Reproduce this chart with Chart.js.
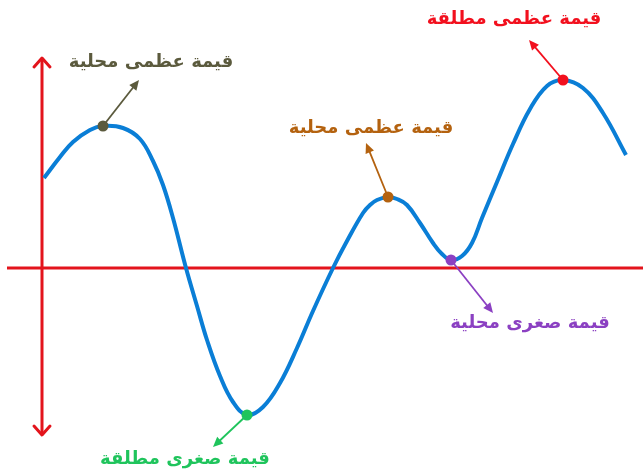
<!DOCTYPE html>
<html>
<head>
<meta charset="utf-8">
<script src="https://cdn.jsdelivr.net/npm/chart.js@4"></script>
<style>
  html, body { margin: 0; padding: 0; background: #fff; }
  #wrap { width: 643px; height: 469px; }
</style>
</head>
<body>
<div id="wrap"><canvas id="curveChart"></canvas></div>
<script>
// curve (y = 0 is the horizontal axis, x = 0 the vertical one)
const curveX = [2, 18, 31, 48, 61, 81, 98, 111, 121, 131, 144, 155, 165, 178, 191, 205, 221, 238, 255, 271, 291,
                305, 321, 328, 335, 346, 355, 365, 378, 391, 400, 409, 420, 430, 440, 455, 471, 488, 505, 521,
                541, 561, 584];
const curveY = [90, 111, 126, 138, 142, 140, 129, 107, 83, 50, 0, -38, -72, -108, -134, -147, -139, -115, -80, -43, 0,
                27, 55, 63, 68, 71, 69, 63, 45, 25, 14, 8, 12, 25, 50, 86, 124, 159, 182, 188,
                180, 155, 113];

// extrema: which curve point, its label and colour
const extremaIndex = [4, 15, 25, 31, 39];
const extremaLabels = ['قيمة عظمى محلية', 'قيمة صغرى مطلقة', 'قيمة عظمى محلية', 'قيمة صغرى محلية', 'قيمة عظمى مطلقة'];
const extremaColors = ['#5b5a3d', '#1fc45c', '#b4620f', '#8b40c2', '#f2101e'];

// axis extents in data units
const xAxisRange = [-35, 601];
const yAxisRange = [-167, 210];

// where each arrow tip and label sit, relative to its point (px)
const arrowTips = [[36, -46], [-34, 32], [-22, -54], [42, 53], [-34, -40]];
const labelOffsets = [[48, -64], [-62, 44], [-17, -69], [79, 63], [-49, -61]];

const axisColor = '#e3141c';

function drawArrow(ctx, x1, y1, x2, y2, color, width, head) {
    const a = Math.atan2(y2 - y1, x2 - x1);
    ctx.save();
    ctx.strokeStyle = color;
    ctx.fillStyle = color;
    ctx.lineWidth = width;
    ctx.beginPath();
    ctx.moveTo(x1, y1);
    ctx.lineTo(x2 - Math.cos(a) * head * 0.8, y2 - Math.sin(a) * head * 0.8);
    ctx.stroke();
    ctx.beginPath();
    ctx.moveTo(x2, y2);
    ctx.lineTo(x2 - head * Math.cos(a) + head * 0.45 * Math.sin(a), y2 - head * Math.sin(a) - head * 0.45 * Math.cos(a));
    ctx.lineTo(x2 - head * Math.cos(a) - head * 0.45 * Math.sin(a), y2 - head * Math.sin(a) + head * 0.45 * Math.cos(a));
    ctx.closePath();
    ctx.fill();
    ctx.restore();
}

function drawOpenHead(ctx, x, y, dir) {
    ctx.save();
    ctx.strokeStyle = axisColor;
    ctx.lineWidth = 3;
    ctx.lineCap = 'round';
    ctx.lineJoin = 'round';
    ctx.beginPath();
    ctx.moveTo(x - 8, y - dir * 9);
    ctx.lineTo(x, y);
    ctx.lineTo(x + 8, y - dir * 9);
    ctx.stroke();
    ctx.restore();
}

const axesPlugin = {
    id: 'axesPlugin',
    beforeDatasetsDraw(chart) {
        const ctx = chart.ctx;
        const xs = chart.scales.x, ys = chart.scales.y;
        const x0 = xs.getPixelForValue(0), y0 = ys.getPixelForValue(0);
        const yTop = ys.getPixelForValue(yAxisRange[1]);
        const yBot = ys.getPixelForValue(yAxisRange[0]);
        ctx.save();
        ctx.strokeStyle = axisColor;
        ctx.lineWidth = 3;
        ctx.beginPath();
        ctx.moveTo(xs.getPixelForValue(xAxisRange[0]), y0);
        ctx.lineTo(xs.getPixelForValue(xAxisRange[1]), y0);
        ctx.moveTo(x0, yTop);
        ctx.lineTo(x0, yBot);
        ctx.stroke();
        ctx.restore();
        drawOpenHead(ctx, x0, yTop, -1);
        drawOpenHead(ctx, x0, yBot, 1);
    }
};

const labelsPlugin = {
    id: 'labelsPlugin',
    afterDatasetsDraw(chart) {
        const ctx = chart.ctx;
        const xs = chart.scales.x, ys = chart.scales.y;
        extremaIndex.forEach(function(idx, i) {
            const px = xs.getPixelForValue(curveX[idx]);
            const py = ys.getPixelForValue(curveY[idx]);
            drawArrow(ctx, px, py, px + arrowTips[i][0], py + arrowTips[i][1], extremaColors[i], 1.8, 10);
            ctx.save();
            ctx.fillStyle = extremaColors[i];
            ctx.font = 'bold 18px "DejaVu Sans"';
            ctx.textAlign = 'center';
            ctx.textBaseline = 'middle';
            ctx.direction = 'rtl';
            ctx.fillText(extremaLabels[i], px + labelOffsets[i][0], py + labelOffsets[i][1]);
            ctx.restore();
        });
    }
};

const curvePoints = curveX.map((x, i) => ({ x: x, y: curveY[i] }));
const extremaPoints = extremaIndex.map(i => ({ x: curveX[i], y: curveY[i] }));

new Chart(document.getElementById('curveChart'), {
    type: 'line',
    data: {
        datasets: [
            {
                label: 'extrema',
                data: extremaPoints,
                showLine: false,
                pointRadius: 5.5,
                pointBackgroundColor: extremaColors,
                pointBorderWidth: 0,
                order: 0
            },
            {
                label: 'curve',
                data: curvePoints,
                borderColor: '#0a7ed6',
                borderWidth: 4,
                pointRadius: 0,
                tension: 0.4,
                fill: false,
                order: 1
            }
        ]
    },
    options: {
        responsive: true,
        maintainAspectRatio: false,
        animation: false,
        events: [],
        layout: { padding: 0, autoPadding: false },
        plugins: {
            legend: { display: false },
            tooltip: { enabled: false }
        },
        scales: {
            x: { type: 'linear', min: -42, max: 601, display: false },
            y: { type: 'linear', min: -201, max: 268, display: false }
        }
    },
    plugins: [axesPlugin, labelsPlugin]
});
</script>
</body>
</html>
